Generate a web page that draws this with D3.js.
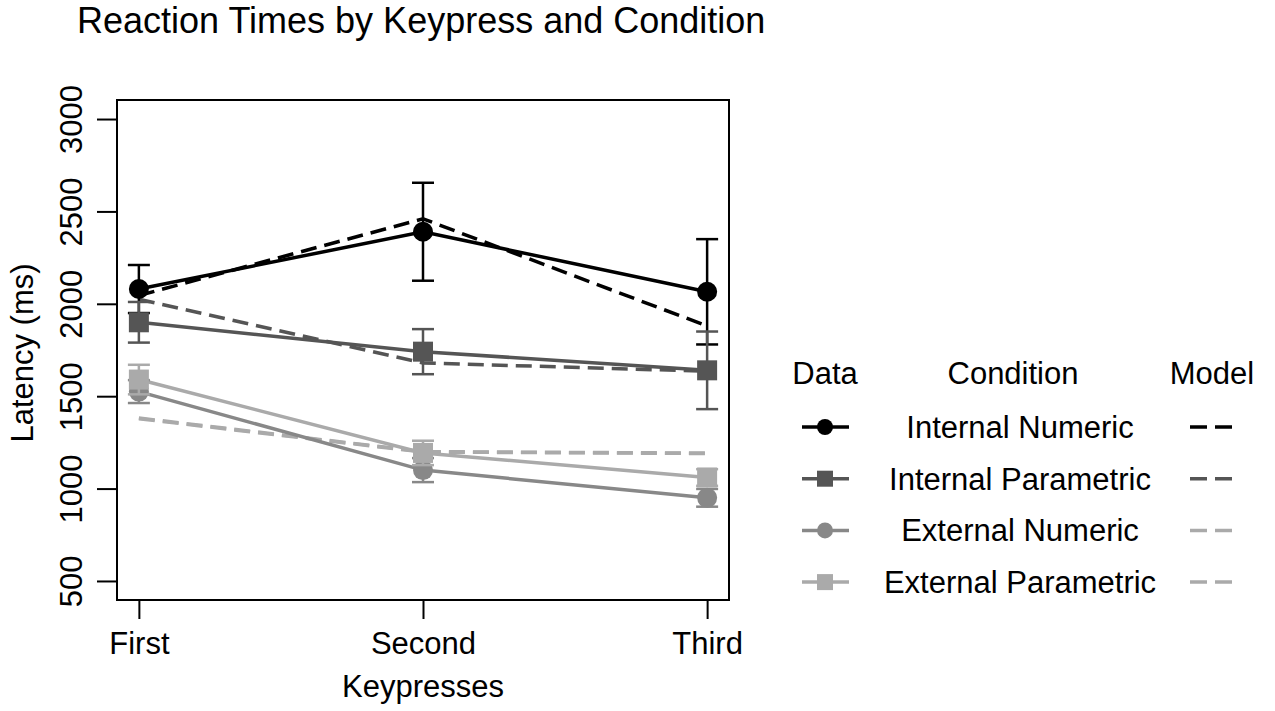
<!DOCTYPE html>
<html>
<head>
<meta charset="utf-8">
<script src="https://cdn.jsdelivr.net/npm/d3@7"></script>
<style>
  body { margin: 0; background: #fff; }
  svg text { font-family: "Liberation Sans", Arial, Helvetica, sans-serif; fill: #000; }
</style>
</head>
<body>
<div id="graph"></div>
<script>
//categories and tick labels
var keypresses = ["First", "Second", "Third"];
var conditions = ["Internal Numeric", "Internal Parametric", "External Numeric", "External Parametric"];
var yTicks = [500, 1000, 1500, 2000, 2500, 3000];

//observed means and error bars (ms)
var internalNumericData = [2080, 2390, 2065];
var internalNumericErr = [130, 265, 285];
var internalParametricData = [1900, 1741, 1640];
var internalParametricErr = [110, 122, 210];
var externalNumericData = [1525, 1100, 950];
var externalNumericErr = [62, 65, 48];
var externalParametricData = [1590, 1193, 1060];
var externalParametricErr = [80, 66, 45];

//model predictions (ms)
var internalNumericModel = [2045, 2460, 1880];
var internalParametricModel = [2025, 1680, 1635];
var externalNumericModel = [1382, 1200, 1192];
var externalParametricModel = [1378, 1198, 1190];

var series = [
    {name: conditions[0], data: internalNumericData, err: internalNumericErr, model: internalNumericModel, color: "#000000", modelColor: "#000000", shape: "circle"},
    {name: conditions[1], data: internalParametricData, err: internalParametricErr, model: internalParametricModel, color: "#555555", modelColor: "#555555", shape: "square"},
    {name: conditions[2], data: externalNumericData, err: externalNumericErr, model: externalNumericModel, color: "#888888", modelColor: "#aaaaaa", shape: "circle"},
    {name: conditions[3], data: externalParametricData, err: externalParametricErr, model: externalParametricModel, color: "#aaaaaa", modelColor: "#aaaaaa", shape: "square"}
];

var width = 1275, height = 711;
var plot = {left: 117, right: 729, top: 100, bottom: 600};

var svg = d3.select("#graph").append("svg")
    .attr("width", width)
    .attr("height", height);

var x = d3.scalePoint()
    .domain(keypresses)
    .range([plot.left, plot.right])
    .padding(0.077);

var y = d3.scaleLinear()
    .domain([397, 3103])
    .range([plot.bottom, plot.top]);

//draw a marker (circle or square) into a group
function drawMarker(g, shape, cx, cy, size, color) {
    if (shape === "circle") {
        g.append("circle")
            .attr("cx", cx).attr("cy", cy).attr("r", size / 2)
            .attr("fill", color);
    } else {
        g.append("rect")
            .attr("x", cx - size / 2).attr("y", cy - size / 2)
            .attr("width", size).attr("height", size)
            .attr("fill", color);
    }
}

//title
svg.append("text")
    .attr("x", 77).attr("y", 33)
    .style("font-size", "36px")
    .text("Reaction Times by Keypress and Condition");

//axes
var yAxis = svg.append("g")
    .attr("transform", "translate(" + plot.left + ",0)")
    .call(d3.axisLeft(y).tickValues(yTicks).tickSize(20).tickFormat(d3.format("d")));
yAxis.select(".domain").remove();
yAxis.selectAll(".tick line").attr("stroke", "#000").attr("stroke-width", 2);
yAxis.selectAll(".tick text")
    .attr("x", 0).attr("dy", 0)
    .attr("transform", "translate(-35,0) rotate(-90)")
    .attr("text-anchor", "middle")
    .style("font-size", "31px");

var xAxis = svg.append("g")
    .attr("transform", "translate(0," + plot.bottom + ")")
    .call(d3.axisBottom(x).tickSize(19));
xAxis.select(".domain").remove();
xAxis.selectAll(".tick line").attr("stroke", "#000").attr("stroke-width", 2);
xAxis.selectAll(".tick text")
    .attr("y", 54).attr("dy", 0)
    .style("font-size", "31px");

//box around plot
svg.append("rect")
    .attr("x", plot.left).attr("y", plot.top)
    .attr("width", plot.right - plot.left).attr("height", plot.bottom - plot.top)
    .attr("fill", "none").attr("stroke", "#000").attr("stroke-width", 2);

//axis labels
svg.append("text")
    .attr("x", (x("First") + x("Third")) / 2).attr("y", 697)
    .attr("text-anchor", "middle")
    .style("font-size", "31px")
    .text("Keypresses");

svg.append("text")
    .attr("transform", "translate(33," + ((plot.top + plot.bottom) / 2 + 3) + ") rotate(-90)")
    .attr("text-anchor", "middle")
    .style("font-size", "31px")
    .text("Latency (ms)");

var line = d3.line()
    .x(function(d, i) { return x(keypresses[i]); })
    .y(function(d) { return y(d); });

//model lines
svg.append("g").selectAll("path")
    .data(series)
    .enter().append("path")
    .attr("d", function(d) { return line(d.model); })
    .attr("fill", "none")
    .attr("stroke", function(d) { return d.modelColor; })
    .attr("stroke-width", 3.5)
    .attr("stroke-dasharray", "16,8");

//data lines
svg.append("g").selectAll("path")
    .data(series)
    .enter().append("path")
    .attr("d", function(d) { return line(d.data); })
    .attr("fill", "none")
    .attr("stroke", function(d) { return d.color; })
    .attr("stroke-width", 3.5);

//error bars and points
series.forEach(function(s) {
    var g = svg.append("g");
    s.data.forEach(function(v, i) {
        var cx = x(keypresses[i]);
        var top = y(v + s.err[i]), bot = y(v - s.err[i]);
        g.append("line").attr("x1", cx).attr("x2", cx).attr("y1", top).attr("y2", bot);
        g.append("line").attr("x1", cx - 11).attr("x2", cx + 11).attr("y1", top).attr("y2", top);
        g.append("line").attr("x1", cx - 11).attr("x2", cx + 11).attr("y1", bot).attr("y2", bot);
    });
    g.selectAll("line").attr("stroke", s.color).attr("stroke-width", 2.5);
    s.data.forEach(function(v, i) {
        drawMarker(g, s.shape, x(keypresses[i]), y(v), 20, s.color);
    });
});

//legend
var legend = svg.append("g");
var headers = [{text: "Data", x: 825}, {text: "Condition", x: 1013}, {text: "Model", x: 1212}];
legend.selectAll("text.header")
    .data(headers)
    .enter().append("text")
    .attr("class", "header")
    .attr("x", function(d) { return d.x; })
    .attr("y", 384)
    .attr("text-anchor", "middle")
    .style("font-size", "31px")
    .text(function(d) { return d.text; });

series.forEach(function(s, i) {
    var ry = 427 + i * 51.7;
    legend.append("line")
        .attr("x1", 802).attr("x2", 849).attr("y1", ry).attr("y2", ry)
        .attr("stroke", s.color).attr("stroke-width", 3.5);
    drawMarker(legend, s.shape, 825, ry, 16, s.color);
    legend.append("text")
        .attr("x", 1020).attr("y", ry + 11)
        .attr("text-anchor", "middle")
        .style("font-size", "31px")
        .text(s.name);
    legend.append("line")
        .attr("x1", 1190).attr("x2", 1237).attr("y1", ry).attr("y2", ry)
        .attr("stroke", s.modelColor).attr("stroke-width", 3.5)
        .attr("stroke-dasharray", "17,8");
});
</script>
</body>
</html>
